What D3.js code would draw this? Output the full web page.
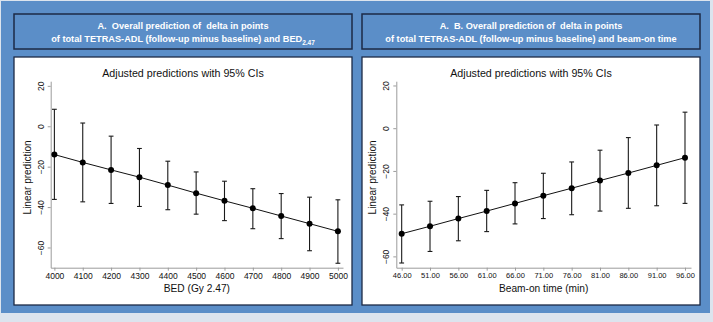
<!DOCTYPE html>
<html>
<head>
<meta charset="utf-8">
<script src="https://cdn.jsdelivr.net/npm/d3@7"></script>
<style>
  body { margin: 0; background: #dce4ee; }
  svg { display: block; font-family: "Liberation Sans", Arial, sans-serif; }
  .head { white-space: pre; }
</style>
</head>
<body>
<svg id="chart"></svg>
<script>
const WIDTH = 713;
const HEIGHT = 322;

// y ticks shared by both panels
const yTicks = [-60, -40, -20, 0, 20];

// panel A: BED (Gy 2.47)
const bedX = [4000, 4100, 4200, 4300, 4400, 4500, 4600, 4700, 4800, 4900, 5000];
const bedFit = [-14.0, -17.9, -21.6, -25.2, -29.1, -33.1, -36.9, -40.6, -44.4, -48.2, -52.0];
const bedLo = [-36.2, -37.4, -38.2, -39.7, -41.3, -43.5, -46.7, -50.7, -55.6, -61.6, -67.8];
const bedHi = [8.4, 1.6, -4.9, -11.0, -17.3, -22.6, -27.2, -30.9, -33.3, -35.1, -36.4];

// panel B: beam-on time (min)
const beamX = [46, 51, 56, 61, 66, 71, 76, 81, 86, 91, 96];
const beamFit = [-49.4, -45.9, -42.3, -38.8, -35.2, -31.6, -28.1, -24.5, -21.0, -17.4, -13.8];
const beamLo = [-63.1, -57.7, -52.7, -48.4, -44.8, -42.3, -40.5, -38.8, -37.5, -36.3, -35.2];
const beamHi = [-35.9, -34.2, -32.0, -29.1, -25.5, -21.1, -15.8, -10.3, -4.4, 1.5, 7.5];

const BLUE = '#5b8ec8';
const NAVY = '#1d2a45';
const AXIS_GREY = '#9c9c9c';

const svg = d3.select('#chart').attr('width', WIDTH).attr('height', HEIGHT);

svg.append('rect')
    .attr('x', 1).attr('y', 1)
    .attr('width', 709).attr('height', 312)
    .attr('fill', BLUE);

const panels = [
    {
        boxX: 14, boxW: 338,
        head1: 'A.  Overall prediction of  delta in points',
        head2: 'of total TETRAS-ADL (follow-up minus baseline) and BED',
        sub: '2.47',
        xs: bedX, fit: bedFit, lo: bedLo, hi: bedHi,
        xDomain: [3987, 5018], xRange: [50.7, 343],
        yDomain: [-70, 22.3],
        tickFmt: d3.format('d'), tickFont: 8.5,
        xTitle: 'BED (Gy 2.47)'
    },
    {
        boxX: 362, boxW: 338,
        head1: 'A.  B. Overall prediction of  delta in points',
        head2: 'of total TETRAS-ADL (follow-up minus baseline) and beam-on time',
        sub: null,
        xs: beamX, fit: beamFit, lo: beamLo, hi: beamHi,
        xDomain: [45.05, 97.06], xRange: [396.3, 691],
        yDomain: [-65.3, 22],
        tickFmt: d3.format('.2f'), tickFont: 7.5,
        xTitle: 'Beam-on time (min)'
    }
];

const Y_BOTTOM = 267.7;
const Y_TOP = 81.2;

panels.forEach(p => {
    const cx = p.boxX + p.boxW / 2;

    // header box
    svg.append('rect')
        .attr('x', p.boxX).attr('y', 14)
        .attr('width', p.boxW).attr('height', 35)
        .attr('fill', BLUE)
        .attr('stroke', NAVY)
        .attr('stroke-width', 1.5);

    svg.append('text')
        .attr('class', 'head')
        .attr('x', cx).attr('y', 29)
        .attr('text-anchor', 'middle')
        .attr('fill', 'white')
        .attr('font-weight', 'bold')
        .attr('font-size', 9.2)
        .text(p.head1);

    const h2 = svg.append('text')
        .attr('class', 'head')
        .attr('x', cx).attr('y', 42.3)
        .attr('text-anchor', 'middle')
        .attr('fill', 'white')
        .attr('font-weight', 'bold')
        .attr('font-size', 9.2);
    h2.append('tspan').text(p.head2);
    if (p.sub) {
        h2.append('tspan')
            .attr('font-size', 6.5)
            .attr('dy', 2.2)
            .text(p.sub);
    }

    // white plot panel
    svg.append('rect')
        .attr('x', p.boxX).attr('y', 57)
        .attr('width', p.boxW).attr('height', 248)
        .attr('fill', 'white')
        .attr('stroke', NAVY)
        .attr('stroke-width', 1.3);

    svg.append('text')
        .attr('x', cx).attr('y', 76.5)
        .attr('text-anchor', 'middle')
        .attr('font-size', 10.7)
        .attr('fill', '#111')
        .text('Adjusted predictions with 95% CIs');

    const x = d3.scaleLinear().domain(p.xDomain).range(p.xRange);
    const y = d3.scaleLinear().domain(p.yDomain).range([Y_BOTTOM, Y_TOP]);

    const xAxis = svg.append('g')
        .attr('transform', `translate(0, ${Y_BOTTOM})`)
        .call(d3.axisBottom(x).tickValues(p.xs).tickSize(3).tickSizeOuter(0).tickPadding(2).tickFormat(p.tickFmt));
    xAxis.selectAll('path, line').attr('stroke', AXIS_GREY);
    xAxis.selectAll('text')
        .attr('fill', '#111')
        .attr('font-size', p.tickFont)
        .attr('font-family', '"Liberation Sans", Arial, sans-serif');

    const yAxis = svg.append('g')
        .attr('transform', `translate(${p.xRange[0]}, 0)`)
        .call(d3.axisLeft(y).tickValues(yTicks).tickSize(3).tickSizeOuter(0));
    yAxis.selectAll('path, line').attr('stroke', AXIS_GREY);
    yAxis.selectAll('text')
        .attr('fill', '#111')
        .attr('font-size', 8.5)
        .attr('font-family', '"Liberation Sans", Arial, sans-serif')
        .attr('text-anchor', 'middle')
        .attr('transform', 'rotate(-90)')
        .attr('x', 0)
        .attr('y', -7)
        .attr('dy', 0);

    svg.append('text')
        .attr('x', (p.xRange[0] + p.xRange[1]) / 2)
        .attr('y', 292)
        .attr('text-anchor', 'middle')
        .attr('font-size', 10.2)
        .attr('fill', '#111')
        .text(p.xTitle);

    svg.append('text')
        .attr('transform', `translate(${p.xRange[0] - 20}, ${(Y_BOTTOM + Y_TOP) / 2 + 3}) rotate(-90)`)
        .attr('text-anchor', 'middle')
        .attr('font-size', 10)
        .attr('fill', '#111')
        .text('Linear prediction');

    const rows = p.xs.map((v, i) => ({ x: v, fit: p.fit[i], lo: p.lo[i], hi: p.hi[i] }));

    // CI bars
    const bars = svg.append('g')
        .selectAll('.ci')
        .data(rows)
        .join('g')
        .attr('class', 'ci')
        .attr('stroke', '#1a1a1a')
        .attr('stroke-width', 1.1);
    bars.append('line')
        .attr('x1', d => x(d.x)).attr('x2', d => x(d.x))
        .attr('y1', d => y(d.lo)).attr('y2', d => y(d.hi));
    bars.append('line')
        .attr('x1', d => x(d.x) - 2.4).attr('x2', d => x(d.x) + 2.4)
        .attr('y1', d => y(d.lo)).attr('y2', d => y(d.lo));
    bars.append('line')
        .attr('x1', d => x(d.x) - 2.4).attr('x2', d => x(d.x) + 2.4)
        .attr('y1', d => y(d.hi)).attr('y2', d => y(d.hi));

    // fitted line
    svg.append('path')
        .datum(rows)
        .attr('fill', 'none')
        .attr('stroke', '#111')
        .attr('stroke-width', 1)
        .attr('d', d3.line().x(d => x(d.x)).y(d => y(d.fit)));

    svg.append('g')
        .selectAll('circle')
        .data(rows)
        .join('circle')
        .attr('cx', d => x(d.x))
        .attr('cy', d => y(d.fit))
        .attr('r', 3)
        .attr('fill', '#000');
});
</script>
</body>
</html>
